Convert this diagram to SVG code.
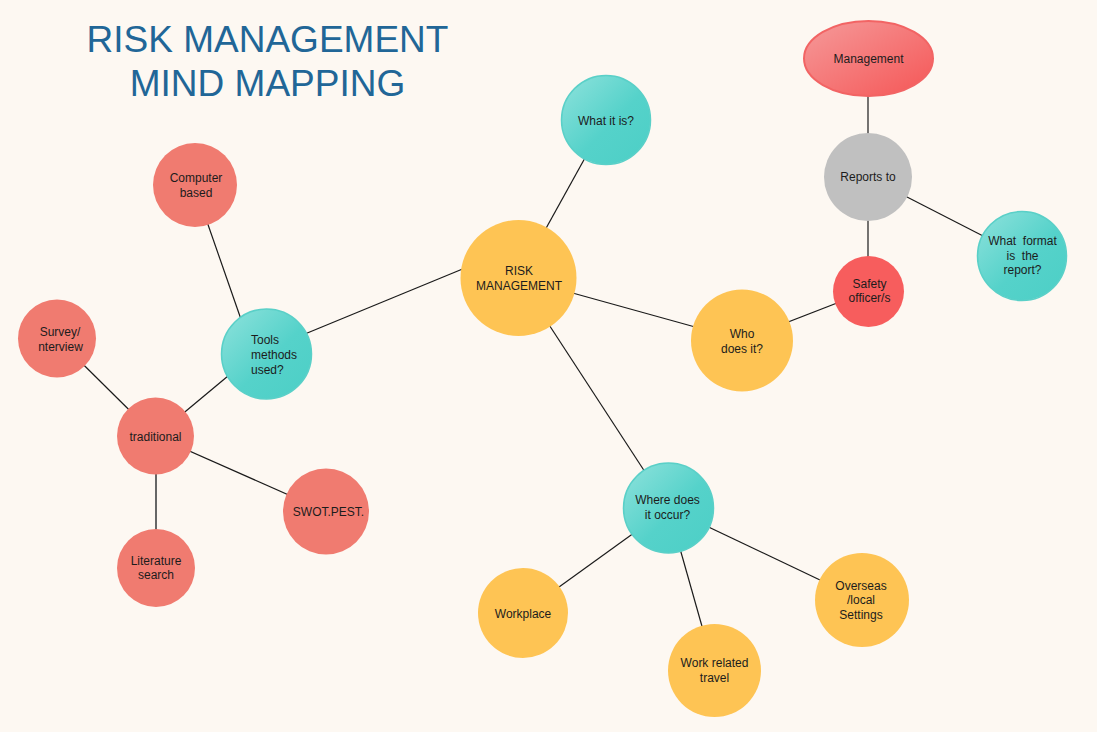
<svg xmlns="http://www.w3.org/2000/svg" width="1097" height="732" viewBox="0 0 1097 732">
<defs>
<linearGradient id="teal" x1="0" y1="0" x2="1" y2="1">
<stop offset="0" stop-color="#8fe2dc"/>
<stop offset="0.55" stop-color="#55d2ca"/>
<stop offset="1" stop-color="#4ccfc6"/>
</linearGradient>
<linearGradient id="red" x1="0" y1="0" x2="1" y2="1">
<stop offset="0" stop-color="#f59a9a"/>
<stop offset="1" stop-color="#f55656"/>
</linearGradient>
<style>
.t{font-family:"Liberation Sans",Arial,sans-serif;font-size:12px;fill:#1c1c1c;text-anchor:middle}
.title{font-family:"Liberation Sans",Arial,sans-serif;font-size:37px;fill:#216697;text-anchor:middle}
.salmon{fill:#f07b70}
.yellow{fill:#fec454}
.teal{fill:url(#teal);stroke:#5ad0c8;stroke-width:1.5}
.c{stroke:#1a1a1a;stroke-width:1.2;fill:none}
</style>
</defs>
<rect x="0" y="0" width="1097" height="732" fill="#fdf8f2"/>
<g id="title">
<text class="title" x="267.5" y="52">RISK MANAGEMENT</text>
<text class="title" x="267.5" y="96">MIND MAPPING</text>
</g>
<g id="connectors">
<line class="c" x1="868" y1="58" x2="868" y2="177"/>
<line class="c" x1="868" y1="177" x2="868" y2="291"/>
<line class="c" x1="868" y1="177" x2="1022" y2="256"/>
<line class="c" x1="868" y1="291" x2="742" y2="340"/>
<line class="c" x1="518.5" y1="278" x2="606" y2="120"/>
<line class="c" x1="518.5" y1="278" x2="742" y2="340"/>
<line class="c" x1="518.5" y1="278" x2="668.5" y2="508"/>
<line class="c" x1="465" y1="268" x2="300" y2="336"/>
<line class="c" x1="205" y1="216" x2="243" y2="325"/>
<line class="c" x1="234" y1="371" x2="180" y2="416"/>
<line class="c" x1="57" y1="338.5" x2="155.5" y2="436"/>
<line class="c" x1="155.5" y1="436" x2="326" y2="511.5"/>
<line x1="156" y1="436" x2="156" y2="568" stroke="#666" stroke-width="2"/>
<line class="c" x1="668.5" y1="508" x2="523" y2="613"/>
<line class="c" x1="668.5" y1="508" x2="714.5" y2="670.5"/>
<line class="c" x1="668.5" y1="508" x2="862" y2="600"/>
</g>
<g id="management">
<ellipse cx="868.5" cy="58.5" rx="64.5" ry="37.5" fill="url(#red)" stroke="#f26464" stroke-width="2"/>
<text class="t" x="868.5" y="63">Management</text>
</g>
<g id="reports-to">
<circle cx="868" cy="177" r="44" fill="#c0c0c0"/>
<text class="t" x="868" y="181">Reports to</text>
</g>
<g id="safety-officer">
<circle cx="868.5" cy="291.5" r="35.5" fill="#f75d5d"/>
<text class="t" x="869.5" y="288">Safety</text>
<text class="t" x="869.5" y="302">officer/s</text>
</g>
<g id="what-format">
<circle class="teal" cx="1022" cy="256" r="44.5"/>
<text class="t" x="1022.5" y="245" xml:space="preserve">What  format</text>
<text class="t" x="1022.5" y="260" xml:space="preserve">is  the</text>
<text class="t" x="1022.5" y="274">report?</text>
</g>
<g id="what-it-is">
<circle class="teal" cx="606" cy="120" r="44.5"/>
<text class="t" x="606" y="125">What it is?</text>
</g>
<g id="risk-management">
<circle class="yellow" cx="518.5" cy="278" r="58"/>
<text class="t" x="519" y="275">RISK</text>
<text class="t" x="519" y="290">MANAGEMENT</text>
</g>
<g id="who-does-it">
<circle class="yellow" cx="742" cy="340.5" r="51"/>
<text class="t" x="742" y="338">Who</text>
<text class="t" x="742" y="353">does it?</text>
</g>
<g id="where-does-it-occur">
<circle class="teal" cx="668.5" cy="508" r="45"/>
<text class="t" x="667.5" y="504">Where does</text>
<text class="t" x="667.5" y="519">it occur?</text>
</g>
<g id="workplace">
<circle class="yellow" cx="523" cy="613" r="45"/>
<text class="t" x="523" y="618">Workplace</text>
</g>
<g id="work-related-travel">
<circle class="yellow" cx="714.5" cy="670.5" r="46.5"/>
<text class="t" x="714.5" y="667">Work related</text>
<text class="t" x="714.5" y="682">travel</text>
</g>
<g id="overseas-local-settings">
<circle class="yellow" cx="862" cy="600" r="47"/>
<text class="t" x="861" y="590">Overseas</text>
<text class="t" x="861" y="604">/local</text>
<text class="t" x="861" y="619">Settings</text>
</g>
<g id="computer-based">
<circle class="salmon" cx="195" cy="185" r="42"/>
<text class="t" x="196" y="182">Computer</text>
<text class="t" x="196" y="197">based</text>
</g>
<g id="survey-interview">
<circle class="salmon" cx="57" cy="338.5" r="39"/>
<text class="t" x="60" y="336">Survey/</text>
<text class="t" x="60.5" y="351">nterview</text>
</g>
<g id="tools-methods-used">
<circle class="teal" cx="266.5" cy="354" r="45"/>
<text class="t" x="251" y="344" style="text-anchor:start">Tools</text>
<text class="t" x="251" y="359" style="text-anchor:start">methods</text>
<text class="t" x="251" y="374" style="text-anchor:start">used?</text>
</g>
<g id="traditional">
<circle class="salmon" cx="155.5" cy="436" r="38.5"/>
<text class="t" x="155.5" y="441">traditional</text>
</g>
<g id="swot-pest">
<circle class="salmon" cx="326" cy="511.5" r="43"/>
<text class="t" x="328.5" y="516">SWOT.PEST.</text>
</g>
<g id="literature-search">
<circle class="salmon" cx="156" cy="568" r="39"/>
<text class="t" x="156" y="565">Literature</text>
<text class="t" x="156" y="579">search</text>
</g>
</svg>
